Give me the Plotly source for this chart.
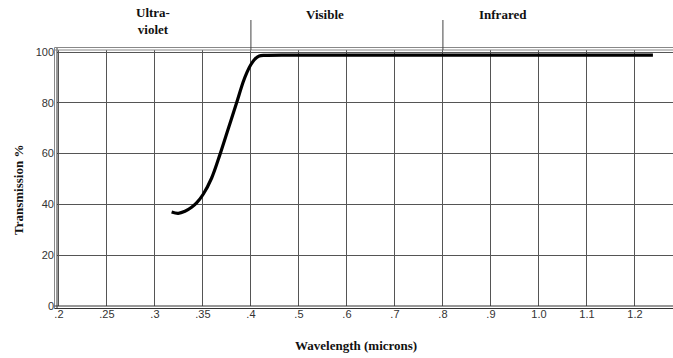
import numpy as np
import plotly.graph_objects as go

# Tick labels of the (piecewise) wavelength axis, equally spaced in the original
tick_wavelengths = [0.2, 0.25, 0.3, 0.35, 0.4, 0.5, 0.6, 0.7, 0.8, 0.9, 1.0, 1.1, 1.2]
tick_labels = [".2", ".25", ".3", ".35", ".4", ".5", ".6", ".7", ".8", ".9", "1.0", "1.1", "1.2"]

# Transmission curve (wavelength in microns, transmission %)
wavelength = [0.3174, 0.3243, 0.3313, 0.3382, 0.3434, 0.3503, 0.3591, 0.3677,
              0.3764, 0.3851, 0.3920, 0.3961, 0.4000, 0.4083, 0.4173, 0.4292,
              0.5, 0.6, 0.8, 1.0, 1.2, 1.2375]
transmission = [37.0, 36.5, 37.3, 38.9, 40.6, 44.0, 50.4, 59.6,
                69.8, 80.0, 88.3, 92.2, 95.1, 97.2, 98.4, 98.7,
                98.8, 98.8, 98.8, 98.8, 98.8, 98.8]

y_ticks = [0, 20, 40, 60, 80, 100]

# Region labels and dividers
region_labels = ["Ultra-<br>violet", "Visible", "Infrared"]
region_centers = [0.298, 0.554, 0.925]
region_dividers = [0.4, 0.8]

tick_pos = np.arange(len(tick_wavelengths), dtype=float)


def to_pos(w):
    """Map wavelength to the equally spaced axis position."""
    w = np.asarray(w, dtype=float)
    ext_w = np.append(tick_wavelengths, 1.3)
    ext_p = np.append(tick_pos, len(tick_wavelengths))
    return np.interp(w, ext_w, ext_p)


fig = go.Figure()
fig.add_trace(go.Scatter(
    x=to_pos(wavelength), y=transmission, mode="lines",
    line=dict(color="black", width=3.2, shape="spline", smoothing=1.0),
    hoverinfo="skip", showlegend=False,
))

W, H = 673, 358
ml, mr, mt, mb = 57, 0, 50, 52
pw = W - ml - mr
ph = H - mt - mb

fig.update_layout(
    width=W, height=H,
    margin=dict(l=ml, r=mr, t=mt, b=mb),
    paper_bgcolor="white", plot_bgcolor="white",
    showlegend=False,
    xaxis=dict(
        range=[-0.04, -0.04 + pw / 48.0],
        tickmode="array", tickvals=list(tick_pos), ticktext=tick_labels,
        showgrid=True, gridcolor="#555555", gridwidth=1,
        zeroline=False, showline=False, ticks="",
        tickfont=dict(family="Liberation Sans, Arial, sans-serif", size=11, color="#333333"),
        fixedrange=True,
    ),
    yaxis=dict(
        range=[0, 100.8],
        tickmode="array", tickvals=y_ticks,
        showgrid=True, gridcolor="#555555", gridwidth=1,
        zeroline=False, showline=False, ticks="",
        ticklabelstandoff=2,
        tickfont=dict(family="Liberation Sans, Arial, sans-serif", size=11, color="#333333"),
        fixedrange=True,
    ),
)

shapes = []
dx = 2.5 / pw
dy = 2.5 / ph
line_dark = dict(color="#333333", width=1)
line_gray = dict(color="#888888", width=1)
# left double border
shapes.append(dict(type="line", xref="paper", yref="paper", x0=0, x1=0, y0=-dy, y1=1 + dy, line=line_dark))
shapes.append(dict(type="line", xref="paper", yref="paper", x0=-dx, x1=-dx, y0=-dy, y1=1 + dy, line=line_gray))
# bottom double border
shapes.append(dict(type="line", xref="paper", yref="paper", x0=-dx, x1=1, y0=0, y1=0, line=line_dark))
shapes.append(dict(type="line", xref="paper", yref="paper", x0=-dx, x1=1, y0=-dy, y1=-dy, line=line_dark))
# top double border
shapes.append(dict(type="line", xref="paper", yref="paper", x0=-dx, x1=1, y0=1, y1=1, line=line_gray))
shapes.append(dict(type="line", xref="paper", yref="paper", x0=-dx, x1=1, y0=1 + dy, y1=1 + dy, line=line_gray))
# region dividers above plot
for d in region_dividers:
    p = float(to_pos(d))
    shapes.append(dict(type="line", xref="x", yref="paper", x0=p, x1=p,
                       y0=1, y1=1 + 30.0 / ph, line=dict(color="#444444", width=1)))
fig.update_layout(shapes=shapes)

serif = "Liberation Serif, Times New Roman, serif"
plot_bottom = H - mb
for lab, c in zip(region_labels, region_centers):
    ypix = 21 if "<br>" in lab else 14
    fig.add_annotation(text="<b>" + lab + "</b>", x=float(to_pos(c)), xref="x",
                       y=(plot_bottom - ypix) / ph, yref="paper", showarrow=False,
                       xanchor="center", yanchor="middle",
                       font=dict(family=serif, size=13, color="#111111"))
fig.add_annotation(text="<b>Wavelength (microns)</b>", x=(356 - ml) / pw, xref="paper",
                   y=-(345 - plot_bottom) / ph, yref="paper", showarrow=False,
                   xanchor="center", yanchor="middle",
                   font=dict(family=serif, size=13, color="#111111"))
fig.add_annotation(text="<b>Transmission %</b>", x=-(ml - 18) / pw, xref="paper",
                   y=(plot_bottom - 190) / ph, yref="paper", textangle=-90, showarrow=False,
                   xanchor="center", yanchor="middle",
                   font=dict(family=serif, size=13, color="#111111"))

fig.write_html("out.html")
